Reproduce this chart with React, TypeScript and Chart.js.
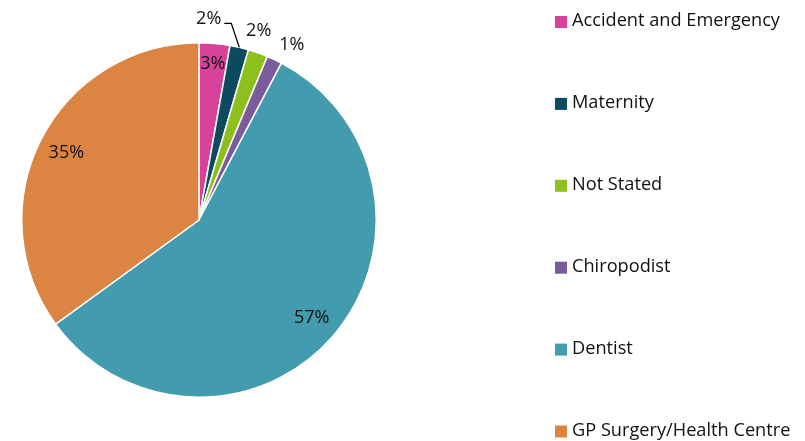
import React, { useEffect, useRef } from "react";
import { Chart, registerables } from "chart.js";

Chart.register(...registerables);

const categories = [
  "Accident and Emergency",
  "Maternity",
  "Not Stated",
  "Chiropodist",
  "Dentist",
  "GP Surgery/Health Centre",
];
const values = [2.8, 1.7, 1.8, 1.4, 57.3, 35.0];
const colors = ["#D7439B", "#0B4A5F", "#8DBF1D", "#7A5B9B", "#439BB0", "#DC8441"];
// label placement style per slice
const labelModes = ["inside", "leader", "outside", "outside", "inside", "inside"];

const FONT = "'Open Sans', Lato, sans-serif";

const labelPlugin = {
  id: "sliceLabels",
  afterDatasetsDraw(chart: any) {
    const ctx = chart.ctx;
    const meta = chart.getDatasetMeta(0);
    const data = chart.data.datasets[0].data as number[];
    const total = data.reduce((a, b) => a + b, 0);
    ctx.save();
    ctx.font = `18px ${FONT}`;
    ctx.fillStyle = "#111";
    ctx.textBaseline = "middle";
    meta.data.forEach((arc: any, i: number) => {
      const { x, y, startAngle, endAngle, outerRadius } = arc.getProps(
        ["x", "y", "startAngle", "endAngle", "outerRadius"],
        true
      );
      const mid = (startAngle + endAngle) / 2;
      const txt = Math.round((data[i] / total) * 100) + "%";
      const mode = labelModes[i];
      if (mode === "inside") {
        const r = outerRadius * (data[i] < 5 ? 0.885 : 0.84);
        ctx.textAlign = "center";
        ctx.fillText(txt, x + Math.cos(mid) * r, y + Math.sin(mid) * r);
      } else if (mode === "outside") {
        // push labels apart tangentially around the rim
        const side = i % 2 === 0 ? -0.035 : 0.045;
        const a = mid + side;
        const r = outerRadius + 22;
        ctx.textAlign = "center";
        ctx.fillText(txt, x + Math.cos(a) * r, y + Math.sin(a) * r + 1);
      } else {
        const ex = x + Math.cos(mid) * outerRadius;
        const ey = y + Math.sin(mid) * outerRadius;
        const kx = ex - 8;
        const ky = ey - 24;
        ctx.strokeStyle = "#000";
        ctx.lineWidth = 1.3;
        ctx.beginPath();
        ctx.moveTo(ex, ey);
        ctx.lineTo(kx, ky);
        ctx.lineTo(kx - 7, ky);
        ctx.stroke();
        ctx.textAlign = "right";
        ctx.fillText(txt, kx - 10, ky - 5);
      }
    });
    ctx.restore();
  },
};

const legendPlugin = {
  id: "sideLegend",
  afterDraw(chart: any) {
    const ctx = chart.ctx;
    ctx.save();
    ctx.font = `18.2px ${FONT}`;
    ctx.textBaseline = "middle";
    ctx.textAlign = "left";
    const labels = chart.data.labels as string[];
    const bg = chart.data.datasets[0].backgroundColor as string[];
    labels.forEach((lab, i) => {
      const cy = 21 + i * 81.9;
      ctx.fillStyle = bg[i];
      ctx.fillRect(555, cy - 5, 12, 12);
      ctx.fillStyle = "#111";
      ctx.fillText(lab, 572, cy);
    });
    ctx.restore();
  },
};

export default function App() {
  const ref = useRef<HTMLCanvasElement>(null);
  useEffect(() => {
    if (!ref.current) return;
    const chart = new Chart(ref.current, {
      type: "pie",
      data: {
        labels: categories,
        datasets: [
          {
            data: values,
            backgroundColor: colors,
            borderColor: "#ffffff",
            borderWidth: 1.5,
          },
        ],
      },
      options: {
        animation: false,
        responsive: false,
        maintainAspectRatio: false,
        layout: { padding: { left: 21, top: 42, bottom: 43, right: 428 } },
        plugins: {
          legend: { display: false },
          tooltip: { enabled: false },
        },
      },
      plugins: [labelPlugin, legendPlugin],
    });
    return () => chart.destroy();
  }, []);
  return (
    <div style={{ position: "absolute", left: 0, top: 0, width: 805, height: 441, background: "#fff" }}>
      <canvas ref={ref} width={805} height={441} style={{ width: 805, height: 441 }} />
    </div>
  );
}
